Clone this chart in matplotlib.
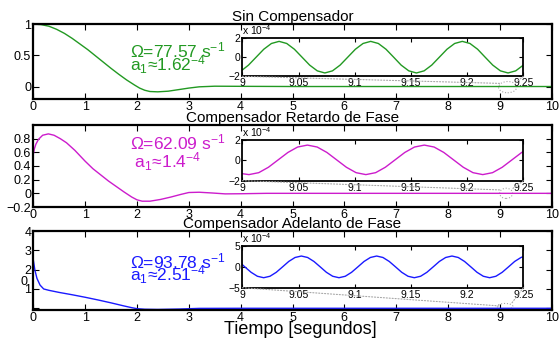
import numpy as np
import matplotlib
matplotlib.use("Agg")
import matplotlib.pyplot as plt
from matplotlib.patches import ConnectionPatch, Ellipse
import matplotlib.transforms as mtransforms

plt.rcParams['font.family'] = ['Liberation Sans', 'DejaVu Sans']
plt.rcParams['mathtext.fontset'] = 'custom'
plt.rcParams['mathtext.rm'] = 'Liberation Sans'
plt.rcParams['mathtext.it'] = 'Liberation Sans:italic'
plt.rcParams['mathtext.default'] = 'regular'

# ======================
# DATA
# ======================
titles = ["Sin Compensador", "Compensador Retardo de Fase", "Compensador Adelanto de Fase"]
omega_txt = [r"$\Omega$=77.57 s$^{-1}$", r"$\Omega$=62.09 s$^{-1}$", r"$\Omega$=93.78 s$^{-1}$"]
a1_txt = [r"a$_1$≈1.62$^{-4}$", r" a$_1$≈1.4$^{-4}$", r"a$_1$≈2.51$^{-4}$"]
colors = ['#229922', '#cc1ccc', '#1a1aff']

# main responses
t_sin = [0, 0.15, 0.3, 0.45, 0.6, 0.75, 0.9, 1.05, 1.2, 1.35, 1.5, 1.65, 1.8, 1.95, 2.05,
         2.15, 2.25, 2.4, 2.6, 2.8, 3.0, 3.2, 3.5, 4.0, 5.0, 10.0]
y_sin = [1.0, 0.99, 0.965, 0.915, 0.85, 0.77, 0.68, 0.59, 0.49, 0.39, 0.29, 0.195, 0.105, 0.025, -0.025,
         -0.06, -0.08, -0.085, -0.075, -0.05, -0.025, -0.005, 0.005, 0.003, 0.0, 0.0]

t_ret = [0, 0.02, 0.05, 0.1, 0.18, 0.29, 0.4, 0.52, 0.64, 0.8, 1.0, 1.15, 1.3, 1.45, 1.6,
         1.75, 1.9, 2.0, 2.1, 2.25, 2.45, 2.65, 2.85, 3.0, 3.2, 3.45, 3.7, 4.0, 4.5, 10.0]
y_ret = [0.57, 0.65, 0.72, 0.79, 0.85, 0.87, 0.85, 0.8, 0.74, 0.63, 0.47, 0.36, 0.27, 0.18, 0.10,
         0.02, -0.055, -0.095, -0.115, -0.115, -0.09, -0.055, -0.015, 0.012, 0.016, 0.005, -0.008, -0.006, 0.0, 0.0]

t_ade = [0, 0.03, 0.07, 0.13, 0.2, 0.3, 0.5, 0.75, 1.0, 1.25, 1.5, 1.75, 1.9, 2.0, 2.15,
         2.4, 2.8, 3.2, 4.0, 10.0]
y_ade = [2.5, 1.98, 1.55, 1.2, 1.0, 0.93, 0.82, 0.7, 0.57, 0.43, 0.28, 0.12, 0.03, -0.02, -0.05,
         -0.06, -0.04, -0.005, 0.0, 0.0]

# zoomed oscillations 9 .. 9.25 s  (values in units of 1e-4)
ti_sin = [9.0, 9.0055, 9.0123, 9.0191, 9.0259, 9.0327, 9.0395, 9.0463, 9.0531, 9.0599, 9.0667,
          9.0734, 9.0802, 9.0870, 9.0938, 9.1006, 9.1074, 9.1142, 9.1210, 9.1278, 9.1346,
          9.1413, 9.1481, 9.1549, 9.1617, 9.1685, 9.1753, 9.1821, 9.1889, 9.1957, 9.2025,
          9.2093, 9.2160, 9.2228, 9.2296, 9.2364, 9.2432, 9.2500]
yi_sin = [-1.34, -0.83, 0.0, 0.83, 1.43, 1.65, 1.43, 0.83, 0.0, -0.83, -1.43,
          -1.65, -1.43, -0.83, 0.0, 0.83, 1.43, 1.65, 1.43, 0.83, 0.0,
          -0.83, -1.43, -1.65, -1.43, -0.83, 0.0, 0.83, 1.43, 1.65, 1.43,
          0.83, 0.0, -0.83, -1.43, -1.65, -1.43, -0.83]

ti_ret = [9.0, 9.0059, 9.0146, 9.0232, 9.0319, 9.0406, 9.0492, 9.0579, 9.0666, 9.0752, 9.0839,
          9.0926, 9.1012, 9.1099, 9.1186, 9.1272, 9.1359, 9.1446, 9.1532, 9.1619, 9.1706,
          9.1792, 9.1879, 9.1966, 9.2052, 9.2139, 9.2226, 9.2312, 9.2399, 9.2486, 9.25]
yi_ret = [-1.31, -1.40, -1.21, -0.68, 0.05, 0.78, 1.31, 1.50, 1.31, 0.78, 0.05,
          -0.68, -1.21, -1.40, -1.21, -0.68, 0.05, 0.78, 1.31, 1.50, 1.31,
          0.78, 0.05, -0.68, -1.21, -1.40, -1.21, -0.68, 0.05, 0.78, 0.88]

ti_ade = [9.0, 9.0022, 9.0078, 9.0134, 9.0190, 9.0246, 9.0302, 9.0358, 9.0413, 9.0469, 9.0525,
          9.0581, 9.0637, 9.0693, 9.0748, 9.0804, 9.0860, 9.0916, 9.0972, 9.1028, 9.1083,
          9.1139, 9.1195, 9.1251, 9.1307, 9.1363, 9.1418, 9.1474, 9.1530, 9.1586, 9.1642,
          9.1698, 9.1753, 9.1809, 9.1865, 9.1921, 9.1977, 9.2033, 9.2088, 9.2144, 9.2200,
          9.2256, 9.2312, 9.2368, 9.2423, 9.2479, 9.25]
yi_ade = [0.54, 0.0, -1.30, -2.25, -2.60, -2.25, -1.30, 0.0, 1.30, 2.25, 2.60,
          2.25, 1.30, 0.0, -1.30, -2.25, -2.60, -2.25, -1.30, 0.0, 1.30,
          2.25, 2.60, 2.25, 1.30, 0.0, -1.30, -2.25, -2.60, -2.25, -1.30,
          0.0, 1.30, 2.25, 2.60, 2.25, 1.30, 0.0, -1.30, -2.25, -2.60,
          -2.25, -1.30, 0.0, 1.30, 2.25, 2.46]

main_t = [t_sin, t_ret, t_ade]
main_y = [y_sin, y_ret, y_ade]
zoom_t = [ti_sin, ti_ret, ti_ade]
zoom_y = [yi_sin, yi_ret, yi_ade]

main_ylim = [(-0.2, 1.0), (-0.2, 1.0), (-0.09, 4.0)]
main_yticks = [[0, 0.5, 1], [-0.2, 0, 0.2, 0.4, 0.6, 0.8], [0, 1, 2, 3, 4]]
main_ylabels = [['0', '0.5', '1'], ['\u22120.2', '0', '0.2', '0.4', '0.6', '0.8'], ['', '1', '2', '3', '4']]
zoom_lim = [2, 2, 5]
omega_y = [0.58, 0.74, 2.41]
a1_y = [0.35, 0.47, 1.72]

# ======================
# layout (figure fractions)
# ======================
main_pos = [[0.0596, 0.713, 0.9274, 0.2174],
            [0.0596, 0.400, 0.9274, 0.2377],
            [0.0596, 0.1014, 0.9274, 0.229]]
ins_pos = [[0.4335, 0.7788, 0.5027, 0.111],
           [0.4335, 0.4762, 0.5027, 0.118],
           [0.4335, 0.166, 0.5027, 0.1209]]
ell = [(9.15, -0.01, 0.35, 0.18), (9.12, 0.0, 0.25, 0.15), (9.1, 0.1, 0.3, 0.3)]
conn_l = [(9.0, 0.05), (9.0, 0.05), (9.0, 0.12)]
conn_r = [(9.3, 0.06), (9.23, 0.06), (9.23, 0.27)]

fig = plt.figure(figsize=(5.59, 3.45), dpi=100)

for i in range(3):
    ax = fig.add_axes(main_pos[i])
    ax.plot(main_t[i], main_y[i], color=colors[i], lw=1.0)
    ax.set_xlim(0, 10)
    ax.set_ylim(*main_ylim[i])
    ax.set_xticks(range(11))
    ax.set_yticks(main_yticks[i])
    ax.set_yticklabels(main_ylabels[i])
    ax.tick_params(direction='in', top=True, right=True, length=4, width=0.8,
                   labelsize=9, pad=1.5)
    for s in ax.spines.values():
        s.set_linewidth(1.6)
    ax.set_title(titles[i], fontsize=11, pad=2)
    ax.text(1.87, omega_y[i], omega_txt[i], color=colors[i], fontsize=12.5, va='center')
    ax.text(1.87, a1_y[i], a1_txt[i], color=colors[i], fontsize=12.5, va='center')

    if i == 2:
        trans = mtransforms.blended_transform_factory(ax.transAxes, ax.transData)
        ax.text(-0.012, 1.38, '0', transform=trans, ha='right', va='center', fontsize=9)

    # zoom marker in main axes
    ex, ey, ew, eh = ell[i]
    ax.add_patch(Ellipse((ex, ey), ew, eh, fill=False, ls=':', lw=0.8, ec='0.65'))

    ins = fig.add_axes(ins_pos[i])
    ins.plot(zoom_t[i], zoom_y[i], color=colors[i], lw=1.0)
    ins.set_xlim(9, 9.25)
    ins.set_ylim(-zoom_lim[i], zoom_lim[i])
    ins.set_xticks([9, 9.05, 9.1, 9.15, 9.2, 9.25])
    ins.set_xticklabels(['9', '9.05', '9.1', '9.15', '9.2', '9.25'])
    ins.set_yticks([-zoom_lim[i], 0, zoom_lim[i]])
    ins.set_yticklabels(['\u2212%d' % zoom_lim[i], '0', '%d' % zoom_lim[i]])
    ins.tick_params(direction='in', top=True, right=True, length=3, width=0.8,
                    labelsize=7.5, pad=1.5)
    for s in ins.spines.values():
        s.set_linewidth(1.3)
    ins.text(0.0, 1.02, r'x 10$^{-4}$', transform=ins.transAxes, fontsize=7.5,
             ha='left', va='bottom')

    for xyA, xyB in [((0, 0), conn_l[i]), ((1, 0), conn_r[i])]:
        cp = ConnectionPatch(xyA=xyA, coordsA=ins.transAxes, xyB=xyB, coordsB=ax.transData,
                             ls=':', lw=0.8, color='0.65')
        fig.add_artist(cp)

fig.text(300.5 / 559, 0.0435, "Tiempo [segundos]", fontsize=13, ha='center', va='center')

fig.savefig("out.png", dpi=100)
